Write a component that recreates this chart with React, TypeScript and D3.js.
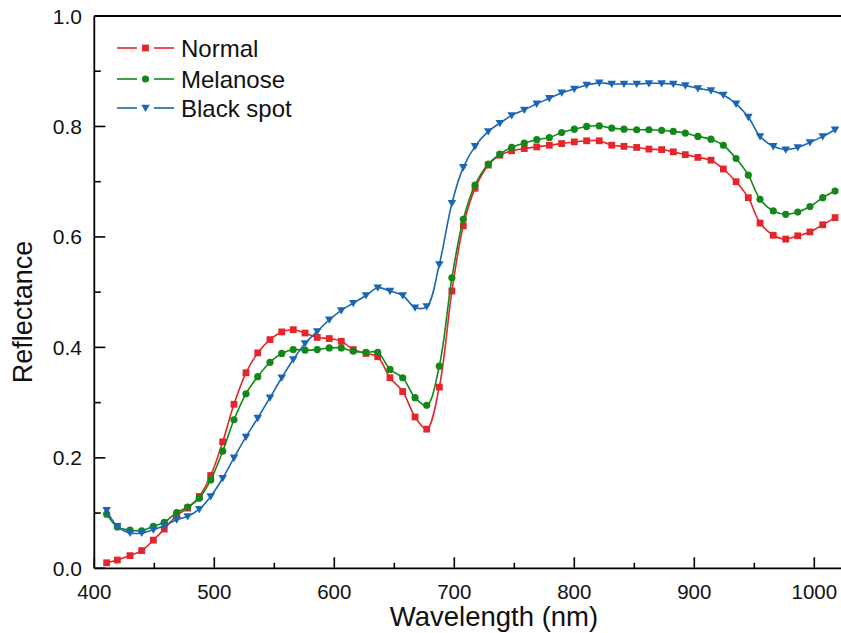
import React from "react";
import * as d3 from "d3";

const wavelengths = [410.3,419.2,429.8,439.5,449.2,458.3,468.7,477.8,487.5,497.0,507.0,516.4,526.4,536.2,546.4,556.2,565.8,575.6,585.8,595.8,605.8,615.8,626.4,636.2,646.4,657.0,667.3,677.0,687.5,698.0,707.5,717.3,728.3,738.0,747.8,758.3,768.7,779.2,789.5,800.0,810.3,820.8,831.2,841.4,852.0,862.2,872.8,882.5,892.5,903.0,913.9,924.2,934.8,945.0,954.8,965.8,976.2,986.2,996.4,1007.0,1017.3];

const normal = [0.010,0.015,0.023,0.032,0.051,0.071,0.096,0.109,0.130,0.168,0.229,0.297,0.354,0.390,0.414,0.428,0.432,0.426,0.418,0.416,0.411,0.396,0.389,0.383,0.345,0.320,0.274,0.252,0.328,0.502,0.620,0.688,0.730,0.748,0.756,0.760,0.763,0.766,0.769,0.772,0.774,0.774,0.766,0.764,0.762,0.759,0.758,0.754,0.749,0.744,0.739,0.723,0.700,0.671,0.625,0.603,0.596,0.602,0.609,0.622,0.635];

const melanose = [0.098,0.075,0.069,0.068,0.076,0.083,0.101,0.111,0.127,0.160,0.212,0.269,0.316,0.347,0.373,0.389,0.396,0.395,0.396,0.399,0.399,0.393,0.391,0.391,0.360,0.345,0.309,0.295,0.366,0.526,0.632,0.694,0.732,0.750,0.762,0.770,0.776,0.780,0.789,0.795,0.800,0.801,0.797,0.795,0.794,0.794,0.793,0.791,0.788,0.782,0.777,0.766,0.742,0.712,0.668,0.647,0.641,0.645,0.655,0.671,0.683];

const blackSpot = [0.105,0.076,0.064,0.064,0.070,0.077,0.088,0.094,0.107,0.130,0.163,0.200,0.238,0.272,0.309,0.345,0.378,0.407,0.429,0.450,0.467,0.480,0.494,0.508,0.502,0.494,0.472,0.474,0.550,0.661,0.726,0.764,0.791,0.806,0.820,0.830,0.841,0.851,0.861,0.868,0.875,0.879,0.877,0.877,0.877,0.878,0.878,0.877,0.874,0.869,0.865,0.857,0.841,0.817,0.782,0.764,0.758,0.762,0.771,0.782,0.794];

const seriesNames = ["Normal", "Melanose", "Black spot"];
const seriesColors = ["#E3262B", "#12881A", "#1A66B3"];
const seriesMarkers = ["square", "circle", "triangleDown"];
const seriesValues = [normal, melanose, blackSpot];

const xMajorTicks = [400, 500, 600, 700, 800, 900, 1000];
const xMinorTicks = [450, 550, 650, 750, 850, 950];
const yMajorTicks = [0, 0.2, 0.4, 0.6, 0.8, 1.0];
const yMinorTicks = [0.1, 0.3, 0.5, 0.7, 0.9];

const W = 841;
const H = 633;
const left = 94.3;
const right = 841;
const top = 16;
const bottom = 568.3;
const FONT = "'Liberation Sans', Arial, sans-serif";

function Marker({ type, x, y, color }: { type: string; x: number; y: number; color: string }) {
  if (type === "square") {
    return <rect x={x - 3.4} y={y - 3.4} width={6.8} height={6.8} fill={color} />;
  }
  if (type === "circle") {
    return <circle cx={x} cy={y} r={3.6} fill={color} />;
  }
  const s = 4.3;
  return (
    <path
      d={`M${x - s},${y - s * 0.75} L${x + s},${y - s * 0.75} L${x},${y + s * 0.95} Z`}
      fill={color}
    />
  );
}

export default function App() {
  const x = d3.scaleLinear().domain([400, 1000]).range([left, left + 720]);
  const y = d3.scaleLinear().domain([0, 1]).range([bottom, bottom - 552.3]);

  const line = d3
    .line<[number, number]>()
    .x((d) => x(d[0]))
    .y((d) => y(d[1]))
    .curve(d3.curveCatmullRom.alpha(0.5));

  const legendRows = [48, 79, 108];

  return (
    <svg
      width={W}
      height={H}
      style={{ position: "absolute", left: 0, top: 0, background: "#fff" }}
      fontFamily={FONT}
    >
      <rect x={0} y={0} width={W} height={H} fill="#fff" />
      {seriesValues.map((vals, si) => {
        const pts: [number, number][] = wavelengths.map((w, i) => [w, vals[i]]);
        return (
          <g key={si}>
            <path d={line(pts) || ""} fill="none" stroke={seriesColors[si]} strokeWidth={1.6} />
            {pts.map((p, i) => (
              <Marker key={i} type={seriesMarkers[si]} x={x(p[0])} y={y(p[1])} color={seriesColors[si]} />
            ))}
          </g>
        );
      })}

      {/* frame */}
      <line x1={left} x2={right} y1={top} y2={top} stroke="#000" strokeWidth={1.8} />
      <line x1={left} x2={right} y1={bottom} y2={bottom} stroke="#000" strokeWidth={1.8} />
      <line x1={left} x2={left} y1={top} y2={bottom} stroke="#000" strokeWidth={1.8} />

      {/* x ticks */}
      {xMajorTicks.map((t) => (
        <g key={"xm" + t}>
          <line x1={x(t)} x2={x(t)} y1={bottom} y2={bottom - 11} stroke="#000" strokeWidth={1.6} />
          <text x={x(t)} y={598.5} fontSize={20.5} textAnchor="middle" fill="#111">
            {t}
          </text>
        </g>
      ))}
      {xMinorTicks.map((t) => (
        <line key={"xn" + t} x1={x(t)} x2={x(t)} y1={bottom} y2={bottom - 5.5} stroke="#000" strokeWidth={1.6} />
      ))}

      {/* y ticks */}
      {yMajorTicks.map((t) => (
        <g key={"ym" + t}>
          <line x1={left} x2={left + 11} y1={y(t)} y2={y(t)} stroke="#000" strokeWidth={1.6} />
          <text x={82} y={y(t) + 7.5} fontSize={21} textAnchor="end" fill="#111">
            {t.toFixed(1)}
          </text>
        </g>
      ))}
      {yMinorTicks.map((t) => (
        <line key={"yn" + t} x1={left} x2={left + 6.5} y1={y(t)} y2={y(t)} stroke="#000" strokeWidth={1.6} />
      ))}

      {/* axis titles */}
      <text x={494} y={625.5} fontSize={27.5} textAnchor="middle" fill="#111">
        Wavelength (nm)
      </text>
      <text
        transform={`translate(32,312) rotate(-90)`}
        fontSize={27}
        textAnchor="middle"
        fill="#111"
      >
        Reflectance
      </text>

      {/* legend */}
      {seriesNames.map((name, i) => (
        <g key={"lg" + i}>
          <line x1={117} x2={137} y1={legendRows[i]} y2={legendRows[i]} stroke={seriesColors[i]} strokeWidth={1.6} />
          <line x1={154} x2={174} y1={legendRows[i]} y2={legendRows[i]} stroke={seriesColors[i]} strokeWidth={1.6} />
          <Marker type={seriesMarkers[i]} x={145.5} y={legendRows[i]} color={seriesColors[i]} />
          <text x={181} y={legendRows[i] + 8.5} fontSize={24} fill="#111">
            {name}
          </text>
        </g>
      ))}
    </svg>
  );
}
